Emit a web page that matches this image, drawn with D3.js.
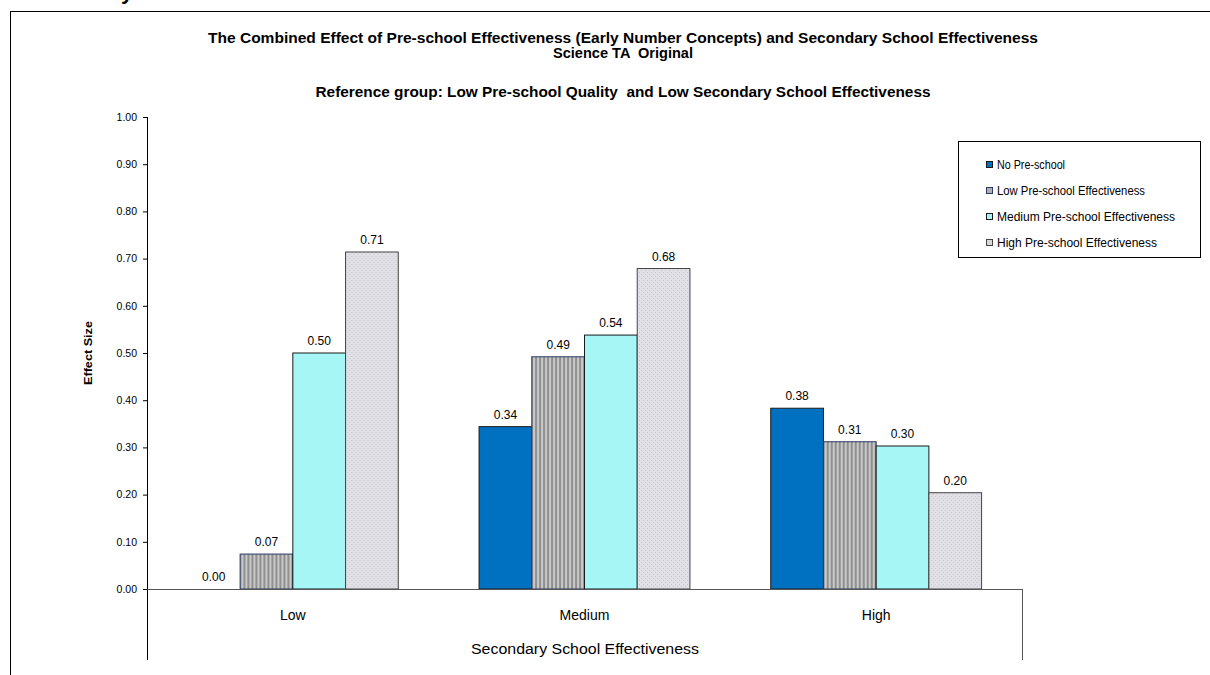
<!DOCTYPE html>
<html>
<head>
<meta charset="utf-8">
<script src="https://cdn.jsdelivr.net/npm/d3@7"></script>
<style>
  html, body { margin: 0; padding: 0; background: #fff; }
  text { font-family: Arial, "Liberation Sans", sans-serif; fill: #000; }
</style>
</head>
<body>
<svg id="chart" width="1210" height="675"></svg>
<script>
const categories = ["Low", "Medium", "High"];
const seriesNames = ["No Pre-school", "Low Pre-school Effectiveness", "Medium Pre-school Effectiveness", "High Pre-school Effectiveness"];
const noPreschool = [0.00, 0.344, 0.383];
const lowPreschool = [0.074, 0.492, 0.312];
const mediumPreschool = [0.500, 0.538, 0.303];
const highPreschool = [0.714, 0.679, 0.204];
const yTicks = [0, 0.1, 0.2, 0.3, 0.4, 0.5, 0.6, 0.7, 0.8, 0.9, 1.0];
const titleLines = ["The Combined Effect of Pre-school Effectiveness (Early Number Concepts) and Secondary School Effectiveness", "Science TA  Original"];
const subtitle = "Reference group: Low Pre-school Quality  and Low Secondary School Effectiveness";
const yTitle = "Effect Size";
const xTitle = "Secondary School Effectiveness";

const seriesValues = [noPreschool, lowPreschool, mediumPreschool, highPreschool];

const svg = d3.select("#chart");
const defs = svg.append("defs");

// Vertical stripes pattern (Low pre-school)
const pStripe = defs.append("pattern").attr("id", "stripes").attr("patternUnits", "userSpaceOnUse")
  .attr("width", 4).attr("height", 4);
pStripe.append("rect").attr("width", 4).attr("height", 4).attr("fill", "#c8c8c8");
pStripe.append("rect").attr("x", 0).attr("width", 2).attr("height", 4).attr("fill", "#8f8f8f");

// Dotted pattern (High pre-school)
const pDot = defs.append("pattern").attr("id", "dots").attr("patternUnits", "userSpaceOnUse")
  .attr("width", 4).attr("height", 4);
pDot.append("rect").attr("width", 4).attr("height", 4).attr("fill", "#e0e0e6");
pDot.append("rect").attr("x", 0).attr("y", 0).attr("width", 1).attr("height", 1).attr("fill", "#c4c4cc");
pDot.append("rect").attr("x", 2).attr("y", 2).attr("width", 1).attr("height", 1).attr("fill", "#c4c4cc");

const fills = ["#0070c0", "url(#stripes)", "#a6f6f6", "url(#dots)"];
const strokes = ["#1a1a1a", "#2b3a67", "#1a1a1a", "#444444"];
const legendFills = ["#0070c0", "#b0b0b0", "#a6f6f6", "#d8d8d8"];

// Outer frame
svg.append("rect").attr("x", 10.5).attr("y", 11.5).attr("width", 1250).attr("height", 700)
  .attr("fill", "none").attr("stroke", "#000").attr("stroke-width", 1);

// cut-off glyph above the frame
svg.append("text").attr("x", 127).attr("y", -1).attr("text-anchor", "middle")
  .attr("font-size", 22).attr("font-weight", "bold").text("y");

const left = 147, right = 1022, y0 = 589, yTop = 117, axisBottom = 660;

const y = d3.scaleLinear().domain([0, 1]).range([y0, yTop]);
const x0 = d3.scaleBand().domain(categories).range([left, right]).paddingInner(0.277).paddingOuter(0.1385);
const x1 = d3.scaleBand().domain(d3.range(seriesNames.length)).range([0, x0.bandwidth()]);

// Titles
const tcx = 623;
svg.append("text").attr("x", tcx).attr("y", 43).attr("text-anchor", "middle")
  .attr("font-size", 14).attr("font-weight", "bold")
  .attr("textLength", 830).attr("lengthAdjust", "spacingAndGlyphs").text(titleLines[0]);
svg.append("text").attr("x", tcx).attr("y", 58).attr("text-anchor", "middle")
  .attr("font-size", 14).attr("font-weight", "bold").attr("xml:space", "preserve")
  .attr("textLength", 140).attr("lengthAdjust", "spacingAndGlyphs").text(titleLines[1]);
svg.append("text").attr("x", tcx).attr("y", 97).attr("text-anchor", "middle")
  .attr("font-size", 14).attr("font-weight", "bold").attr("xml:space", "preserve")
  .attr("textLength", 615).attr("lengthAdjust", "spacingAndGlyphs").text(subtitle);

// Y axis
const yAxis = d3.axisLeft(y).tickValues(yTicks).tickFormat(d3.format(".2f")).tickSize(4).tickPadding(6);
const yg = svg.append("g").attr("transform", `translate(${left},0)`).call(yAxis);
yg.select(".domain").remove();
yg.selectAll(".tick line").attr("stroke", "#000");
yg.selectAll(".tick text").attr("font-size", 10.5).attr("font-family", "Arial, 'Liberation Sans', sans-serif").attr("fill", "#000");
svg.append("line").attr("x1", left + 0.5).attr("x2", left + 0.5).attr("y1", yTop).attr("y2", axisBottom)
  .attr("stroke", "#000");

// Bars
const groups = svg.append("g").selectAll("g").data(categories).join("g")
  .attr("transform", d => `translate(${x0(d)},0)`);
groups.selectAll("rect").data((d, ci) => seriesValues.map((s, si) => ({ si, v: s[ci] })))
  .join("rect")
  .attr("x", d => x1(d.si))
  .attr("y", d => y(d.v))
  .attr("width", x1.bandwidth())
  .attr("height", d => y0 - y(d.v))
  .attr("fill", d => fills[d.si])
  .attr("stroke", d => d.v > 0 ? strokes[d.si] : "none")
  .attr("stroke-width", 1);

// data labels
groups.selectAll("text.lbl").data((d, ci) => seriesValues.map((s, si) => ({ si, v: s[ci] })))
  .join("text").attr("class", "lbl")
  .attr("x", d => x1(d.si) + x1.bandwidth() / 2)
  .attr("y", d => y(d.v) - 8)
  .attr("text-anchor", "middle").attr("font-size", 12)
  .text(d => d3.format(".2f")(d.v));

// zero line + right boundary
svg.append("line").attr("x1", left).attr("x2", right + 0.5).attr("y1", y0 + 0.5).attr("y2", y0 + 0.5)
  .attr("stroke", "#555");
svg.append("line").attr("x1", right + 0.5).attr("x2", right + 0.5).attr("y1", y0).attr("y2", axisBottom)
  .attr("stroke", "#555");

// Category labels
svg.append("g").selectAll("text").data(categories).join("text")
  .attr("x", d => x0(d) + x0.bandwidth() / 2).attr("y", 620)
  .attr("text-anchor", "middle").attr("font-size", 14).text(d => d);

// Axis titles
svg.append("text").attr("x", 585).attr("y", 654).attr("text-anchor", "middle")
  .attr("font-size", 14).attr("textLength", 228).attr("lengthAdjust", "spacingAndGlyphs").text(xTitle);
svg.append("text").attr("transform", `translate(92,${(y0 + yTop) / 2}) rotate(-90)`)
  .attr("text-anchor", "middle").attr("font-size", 11).attr("font-weight", "bold")
  .attr("textLength", 64).attr("lengthAdjust", "spacingAndGlyphs").text(yTitle);

// Legend
const lg = svg.append("g");
lg.append("rect").attr("x", 958.5).attr("y", 141.5).attr("width", 242).attr("height", 116)
  .attr("fill", "#fff").attr("stroke", "#000");
const items = lg.selectAll("g").data(seriesNames).join("g")
  .attr("transform", (d, i) => `translate(986,${165 + i * 26})`);
items.append("rect").attr("x", 0.5).attr("y", -3.5).attr("width", 6).attr("height", 6)
  .attr("fill", (d, i) => legendFills[i]).attr("stroke", (d, i) => strokes[i]);
items.append("text").attr("x", 11).attr("y", 4).attr("font-size", 12)
  .attr("textLength", (d, i) => [68, 148, 178, 160][i]).attr("lengthAdjust", "spacingAndGlyphs").text(d => d);
</script>
</body>
</html>
